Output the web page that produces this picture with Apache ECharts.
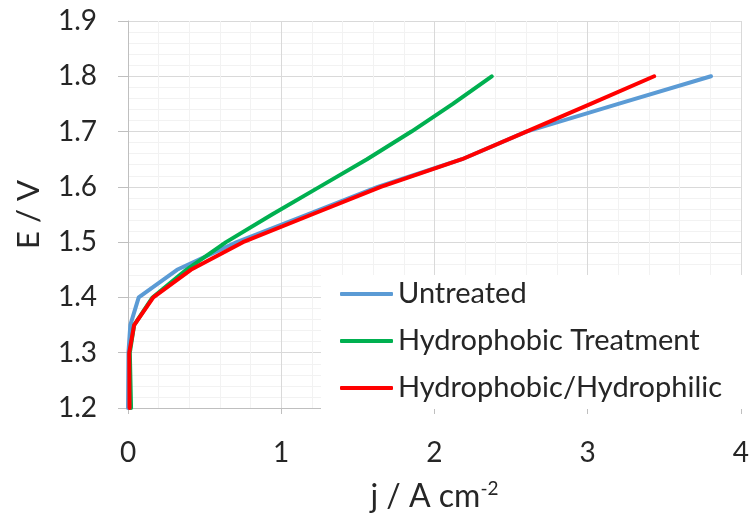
<!DOCTYPE html>
<html>
<head>
<meta charset="utf-8">
<script src="https://cdn.jsdelivr.net/npm/echarts@6/dist/echarts.min.js"></script>
<style>
  html, body { margin: 0; padding: 0; background: #fff; }
  #chart { width: 752px; height: 518px; }
</style>
</head>
<body>
<div id="chart"></div>
<script>
// potential steps (V) shared by all three curves
const voltages = [1.2, 1.3, 1.35, 1.4, 1.45, 1.5, 1.55, 1.6, 1.65, 1.7, 1.75, 1.8];

// current density (A cm-2)
const untreated   = [0.0, 0.003, 0.015, 0.07, 0.32, 0.71, 1.17, 1.63, 2.18, 2.6, 3.2, 3.805];
const hydrophobic = [0.02, 0.012, 0.04, 0.16, 0.38, 0.64, 0.94, 1.25, 1.56, 1.85, 2.12, 2.374];
const hydrophilic = [0.01, 0.008, 0.04, 0.165, 0.41, 0.75, 1.2, 1.65, 2.18, 2.6, 3.02, 3.434];

const seriesNames = ['Untreated', 'Hydrophobic Treatment', 'Hydrophobic/Hydrophilic'];
const seriesColors = ['#5b9bd5', '#00b050', '#ff0000'];

const xTicks = [0, 1, 2, 3, 4];
const yTicks = [1.2, 1.3, 1.4, 1.5, 1.6, 1.7, 1.8, 1.9];

const FONT = 'Lato';
const TEXT = '#262626';

const chartDom = document.getElementById('chart');
const myChart = echarts.init(chartDom);

const pairs = (js) => js.map((j, i) => [j, voltages[i]]);

const option = {
    animation: false,
    grid: {
        left: 128,
        right: 9,
        top: 21,
        bottom: 108,
        containLabel: false
    },
    legend: {
        orient: 'vertical',
        left: 321,
        top: 275,
        padding: [4, 20, 6, 19],
        itemGap: 17,
        itemWidth: 53,
        itemHeight: 4,
        backgroundColor: '#ffffff',
        icon: 'roundRect',
        data: seriesNames,
        textStyle: {
            fontFamily: FONT,
            fontSize: 29,
            lineHeight: 30,
            color: TEXT
        }
    },
    xAxis: {
        type: 'value',
        min: xTicks[0],
        max: xTicks[xTicks.length - 1],
        interval: 1,
        name: '{a|j / A cm}{s|-2}',
        nameLocation: 'middle',
        nameGap: 71,
        nameTextStyle: {
            rich: {
                a: { fontFamily: FONT, fontSize: 32, color: TEXT, lineHeight: 34, verticalAlign: 'bottom' },
                s: { fontFamily: FONT, fontSize: 19, color: TEXT, lineHeight: 34, verticalAlign: 'top' }
            }
        },
        axisLine: { show: true, onZero: false, lineStyle: { color: '#bfbfbf', width: 1 } },
        axisTick: { show: true, length: 6, lineStyle: { color: '#bfbfbf' } },
        axisLabel: {
            margin: 31,
            fontFamily: FONT,
            fontSize: 28,
            color: TEXT
        },
        splitLine: { show: true, lineStyle: { color: '#d9d9d9', width: 1 } },
        minorTick: { show: false, splitNumber: 5 },
        minorSplitLine: { show: true, lineStyle: { color: '#f2f2f2', width: 1 } }
    },
    yAxis: {
        type: 'value',
        min: yTicks[0],
        max: yTicks[yTicks.length - 1],
        interval: 0.1,
        name: 'E / V',
        nameLocation: 'middle',
        nameRotate: 90,
        nameGap: 84,
        nameTextStyle: {
            fontFamily: FONT,
            fontSize: 31,
            color: TEXT
        },
        axisLine: { show: true, onZero: false, lineStyle: { color: '#bfbfbf', width: 1 } },
        axisTick: { show: true, length: 10, lineStyle: { color: '#bfbfbf' } },
        axisLabel: {
            margin: 31,
            fontFamily: FONT,
            fontSize: 28,
            color: TEXT,
            formatter: v => v.toFixed(1)
        },
        splitLine: { show: true, lineStyle: { color: '#d9d9d9', width: 1 } },
        minorTick: { show: false, splitNumber: 5 },
        minorSplitLine: { show: true, lineStyle: { color: '#f2f2f2', width: 1 } }
    },
    series: [untreated, hydrophobic, hydrophilic].map((js, i) => ({
        name: seriesNames[i],
        type: 'line',
        data: pairs(js),
        showSymbol: false,
        smooth: false,
        color: seriesColors[i],
        lineStyle: { color: seriesColors[i], width: 4, cap: 'round', join: 'round' },
        z: 2 + i
    }))
};

option && myChart.setOption(option);
</script>
</body>
</html>
